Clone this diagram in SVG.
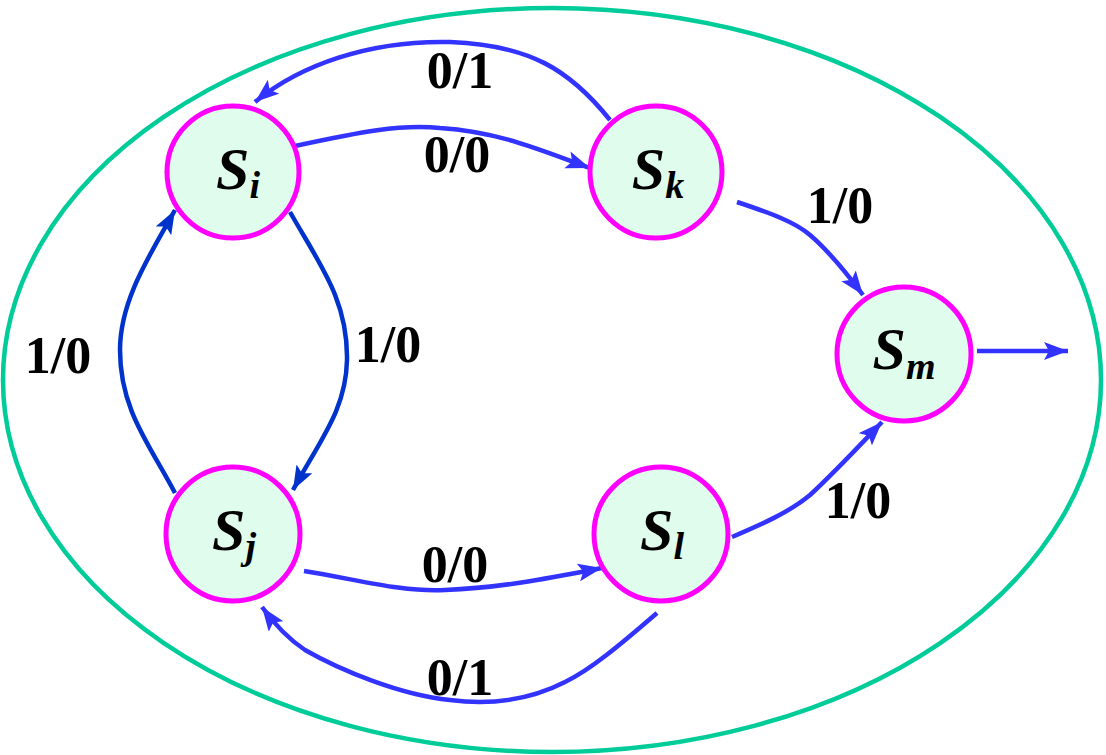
<svg xmlns="http://www.w3.org/2000/svg" width="1106" height="755" viewBox="0 0 1106 755">
<defs>
<style>
.node{fill:#E0FCEC;stroke:#FF00FF;stroke-width:5}
.st{font-family:"Liberation Serif","Times New Roman",serif;font-weight:bold;font-style:italic;font-size:60px;fill:#000;text-anchor:middle}
.sub{font-size:38px}
.lbl{font-family:"Liberation Serif","Times New Roman",serif;font-weight:bold;font-size:52px;fill:#000;text-anchor:middle}
.e{fill:none;stroke:#3333FF;stroke-width:4.5}
.d{fill:none;stroke:#0033CC;stroke-width:4.5}
</style>
<marker id="ab" markerUnits="userSpaceOnUse" markerWidth="28" markerHeight="20" refX="24" refY="9" orient="auto">
<path d="M0,0 L24,9 L0,18 L5,9 z" fill="#3333FF"/>
</marker>
<marker id="ad" markerUnits="userSpaceOnUse" markerWidth="28" markerHeight="20" refX="24" refY="9" orient="auto">
<path d="M0,0 L24,9 L0,18 L5,9 z" fill="#0033CC"/>
</marker>
</defs>
<rect width="1106" height="755" fill="#fff"/>
<ellipse cx="552" cy="380" rx="549" ry="372" fill="none" stroke="#00CC99" stroke-width="4.5"/>
<g id="connectors">
<path class="e" marker-end="url(#ab)" d="M610,120 C570,70 530,45 450,42 C370,40 300,65 255,102"/>
<path class="e" marker-end="url(#ab)" d="M295,146 C360,132 400,124 440,128 C500,132 540,150 590,168"/>
<path class="d" marker-end="url(#ad)" d="M290,212 C320,265 348,300 347,360 C346,410 320,440 293,490"/>
<path class="d" marker-end="url(#ad)" d="M175,493 C150,445 120,410 120,350 C120,300 150,255 175,210"/>
<path class="e" marker-end="url(#ab)" d="M304,571 C360,580 400,592 445,590 C500,588 550,578 602,568"/>
<path class="e" marker-end="url(#ab)" d="M657,613 C620,645 590,670 565,682 C530,700 490,705 450,700 C400,695 340,670 305,650 C290,640 275,625 262,607"/>
<path class="e" marker-end="url(#ab)" d="M737,202 C770,213 795,222 810,235 C830,252 848,275 863,295"/>
<path class="e" marker-end="url(#ab)" d="M732,537 C760,525 790,512 810,495 C835,472 860,445 882,422"/>
<path class="e" marker-end="url(#ab)" d="M977,351 L1068,351"/>
</g>
<g id="labels">
<text class="lbl" x="460" y="88">0/1</text>
<text class="lbl" x="457" y="172">0/0</text>
<text class="lbl" x="840" y="223">1/0</text>
<text class="lbl" x="858" y="518">1/0</text>
<text class="lbl" x="58" y="373">1/0</text>
<text class="lbl" x="388" y="362">1/0</text>
<text class="lbl" x="455" y="582">0/0</text>
<text class="lbl" x="460" y="695">0/1</text>
</g>
<g id="Si"><circle class="node" cx="233" cy="172" r="66"/><text class="st" x="238" y="189">S<tspan class="sub" dy="9">i</tspan></text></g>
<g id="Sk"><circle class="node" cx="656" cy="172" r="66"/><text class="st" x="658" y="189">S<tspan class="sub" dy="9">k</tspan></text></g>
<g id="Sm"><circle class="node" cx="904" cy="354" r="67"/><text class="st" x="904" y="369">S<tspan class="sub" dy="10">m</tspan></text></g>
<g id="Sj"><circle class="node" cx="233" cy="534" r="67"/><text class="st" x="234" y="550">S<tspan class="sub" dy="9">j</tspan></text></g>
<g id="Sl"><circle class="node" cx="661" cy="534" r="67"/><text class="st" x="662" y="550">S<tspan class="sub" dy="9">l</tspan></text></g>
</svg>
